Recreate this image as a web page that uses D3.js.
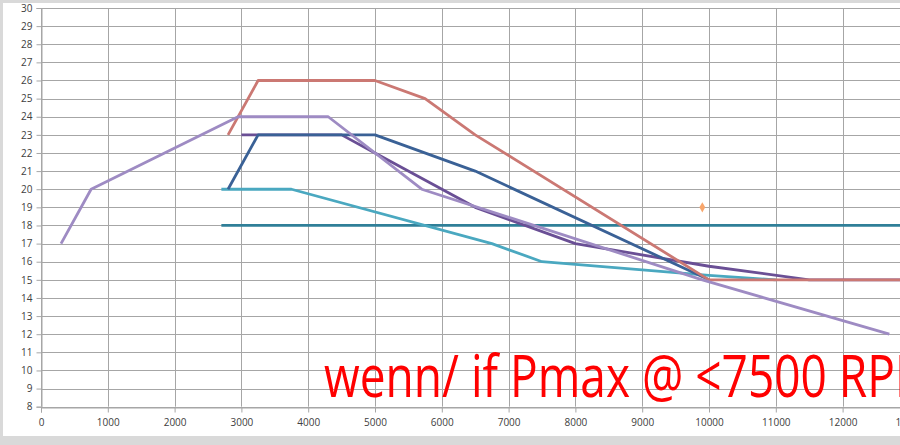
<!DOCTYPE html>
<html>
<head>
<meta charset="utf-8">
<script src="https://cdn.jsdelivr.net/npm/d3@7"></script>
<style>
  html, body { margin: 0; padding: 0; background: #d9d9d9; overflow: hidden; }
  svg { display: block; }
</style>
</head>
<body>
<svg id="chart" width="900" height="445"></svg>
<script>
// ---- data (rpm, value) ----
const xTicks = d3.range(0, 13001, 1000);
const yTicks = d3.range(8, 31, 1);

const lilacRpm = [300, 750, 2950, 4300, 5700, 9900, 12700];
const lilacVal = [17, 20, 24, 24, 20, 15, 12];

const redRpm = [2800, 3250, 5000, 5750, 6500, 10000, 13000];
const redVal = [23, 26, 26, 25, 23, 15, 15];

const blueRpm = [2800, 3250, 5000, 6500, 10000];
const blueVal = [20, 23, 23, 21, 15];

const purpleRpm = [3000, 4500, 5000, 6500, 8000, 10000, 11500, 13000];
const purpleVal = [23, 23, 22, 19, 17, 15.75, 15, 15];

const tealRpm = [2700, 3750, 6750, 7500, 10000, 11000];
const tealVal = [20, 20, 17, 16, 15.25, 15];

const darkTealRpm = [2700, 13000];
const darkTealVal = [18, 18];

const markerRpm = [9900];
const markerVal = [19];

const noteText = "wenn/ if Pmax @ <7500 RPM";

// ---- layout ----
const svg = d3.select("#chart");
const x = d3.scaleLinear().domain([0, 13000]).range([41, 41 + 13 * 66.8]);
const y = d3.scaleLinear().domain([8, 30]).range([406.7, 8]);

// chart area background
svg.append("rect").attr("x", 3).attr("y", 3).attr("width", 900).attr("height", 433).attr("fill", "#ffffff");

const gridColor = "#a6a6a6";
// horizontal gridlines
svg.append("g").selectAll("line").data(yTicks).join("line")
  .attr("x1", x(0)).attr("x2", 900)
  .attr("y1", d => Math.round(y(d)) + 0.5).attr("y2", d => Math.round(y(d)) + 0.5)
  .attr("stroke", gridColor).attr("stroke-width", 1);
// vertical gridlines
svg.append("g").selectAll("line").data(xTicks).join("line")
  .attr("x1", d => Math.round(x(d)) + 0.5).attr("x2", d => Math.round(x(d)) + 0.5)
  .attr("y1", y(30)).attr("y2", y(8))
  .attr("stroke", gridColor).attr("stroke-width", 1);

// axes
const yAxis = d3.axisLeft(y).tickValues(yTicks).tickSize(5).tickPadding(4).tickFormat(d3.format("d"));
const xAxis = d3.axisBottom(x).tickValues(xTicks).tickSize(5).tickPadding(6).tickFormat(d3.format("d"));
const gy = svg.append("g").attr("transform", `translate(${Math.round(x(0)) + 0.5},0)`).call(yAxis);
const gx = svg.append("g").attr("transform", `translate(0,${Math.round(y(8)) + 0.5})`).call(xAxis);
[gx, gy].forEach(g => {
  g.select(".domain").attr("stroke", gridColor);
  g.selectAll(".tick line").attr("stroke", gridColor);
  g.selectAll(".tick text").attr("fill", "#404040")
    .style("font-family", "'Open Sans', 'Noto Sans', sans-serif").style("font-size", "10px");
});

// series
const line = d3.line().x(d => x(d[0])).y(d => y(d[1]));
const zip = (a, b) => a.map((v, i) => [v, b[i]]);
const series = [
  { rpm: darkTealRpm, val: darkTealVal, color: "#2f7f98" },
  { rpm: tealRpm, val: tealVal, color: "#4aa8c0" },
  { rpm: purpleRpm, val: purpleVal, color: "#6a4f95" },
  { rpm: blueRpm, val: blueVal, color: "#3a6196" },
  { rpm: redRpm, val: redVal, color: "#cb7873" },
  { rpm: lilacRpm, val: lilacVal, color: "#9e8bc3" }
];
svg.append("g").selectAll("path").data(series).join("path")
  .attr("d", s => line(zip(s.rpm, s.val)))
  .attr("fill", "none")
  .attr("stroke", s => s.color)
  .attr("stroke-width", 2.8)
  .attr("stroke-linejoin", "round");

// marker
const sym = d3.symbol().type(d3.symbolDiamond).size(30);
svg.append("g").selectAll("path").data(zip(markerRpm, markerVal)).join("path")
  .attr("d", sym)
  .attr("transform", d => `translate(${x(d[0])},${y(d[1])})`)
  .attr("fill", "#f8a66c");

// note text: horizontally scaled so that "R" starts where it does in the reference
const note = svg.append("text")
  .attr("x", 0).attr("y", 0)
  .attr("fill", "#ff0000")
  .style("font-family", "'Open Sans', sans-serif").style("font-size", "58px")
  .text(noteText);
const rIndex = noteText.indexOf("R");
const rPos = note.node().getStartPositionOfChar(rIndex).x;
const sx = (839 - 324) / rPos;
note.attr("transform", `translate(324,397) scale(${sx},1)`);
</script>
</body>
</html>
